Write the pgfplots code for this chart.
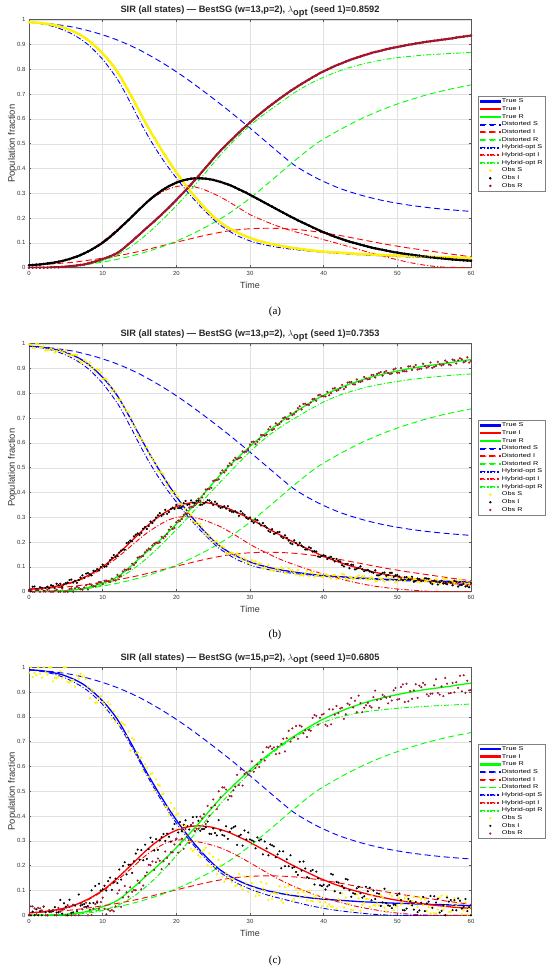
\documentclass[border=0pt]{standalone}
\usepackage{fontspec}
\setmainfont{Liberation Sans}
\newfontfamily\capfont{Liberation Serif}
\newfontfamily\legfont[FakeStretch=1.3]{Liberation Sans}
\usepackage{pgfplots}
\pgfplotsset{compat=1.18}
\usepackage{pgfplotstable}
\definecolor{obsR}{rgb}{0.635,0.078,0.184}

\pgfplotstableread{
t S I R
0.0 0.990 0.010 0.000
0.5 0.989 0.011 0.000
1.0 0.988 0.012 0.000
1.5 0.987 0.013 0.000
2.0 0.985 0.015 0.000
2.5 0.983 0.017 0.000
3.0 0.980 0.019 0.001
3.5 0.977 0.021 0.002
4.0 0.974 0.024 0.002
4.5 0.970 0.027 0.003
5.0 0.965 0.031 0.004
5.5 0.959 0.035 0.006
6.0 0.953 0.040 0.007
6.5 0.946 0.045 0.009
7.0 0.938 0.051 0.011
7.5 0.929 0.058 0.013
8.0 0.918 0.065 0.017
8.5 0.906 0.073 0.021
9.0 0.893 0.082 0.025
9.5 0.879 0.091 0.030
10.0 0.864 0.101 0.035
10.5 0.848 0.112 0.040
11.0 0.830 0.124 0.046
11.5 0.811 0.137 0.052
12.0 0.790 0.150 0.060
12.5 0.766 0.164 0.070
13.0 0.740 0.178 0.082
13.5 0.713 0.192 0.095
14.0 0.686 0.207 0.107
14.5 0.658 0.221 0.121
15.0 0.630 0.236 0.134
15.5 0.602 0.250 0.148
16.0 0.575 0.264 0.161
16.5 0.549 0.277 0.174
17.0 0.524 0.289 0.187
17.5 0.499 0.300 0.201
18.0 0.475 0.311 0.214
18.5 0.451 0.320 0.229
19.0 0.428 0.329 0.243
19.5 0.406 0.336 0.258
20.0 0.384 0.343 0.273
20.5 0.363 0.348 0.289
21.0 0.343 0.353 0.304
21.5 0.324 0.356 0.320
22.0 0.305 0.359 0.336
22.5 0.287 0.360 0.353
23.0 0.270 0.361 0.369
23.5 0.253 0.360 0.387
24.0 0.237 0.359 0.404
24.5 0.222 0.357 0.421
25.0 0.207 0.354 0.439
25.5 0.194 0.350 0.456
26.0 0.182 0.346 0.472
26.5 0.172 0.341 0.487
27.0 0.162 0.336 0.502
27.5 0.154 0.330 0.516
28.0 0.146 0.323 0.531
28.5 0.139 0.316 0.545
29.0 0.132 0.309 0.559
29.5 0.126 0.302 0.572
30.0 0.120 0.294 0.586
30.5 0.115 0.286 0.599
31.0 0.110 0.278 0.612
31.5 0.106 0.270 0.624
32.0 0.102 0.262 0.636
32.5 0.098 0.254 0.648
33.0 0.095 0.246 0.659
33.5 0.092 0.238 0.670
34.0 0.089 0.230 0.681
34.5 0.086 0.222 0.692
35.0 0.084 0.214 0.702
35.5 0.081 0.206 0.713
36.0 0.079 0.199 0.722
36.5 0.077 0.191 0.732
37.0 0.075 0.184 0.741
37.5 0.073 0.177 0.750
38.0 0.071 0.170 0.759
38.5 0.069 0.163 0.768
39.0 0.068 0.156 0.776
39.5 0.066 0.149 0.785
40.0 0.065 0.143 0.792
40.5 0.064 0.137 0.799
41.0 0.063 0.131 0.806
41.5 0.062 0.125 0.813
42.0 0.061 0.120 0.819
42.5 0.060 0.115 0.825
43.0 0.059 0.110 0.831
43.5 0.058 0.105 0.837
44.0 0.057 0.101 0.842
44.5 0.056 0.097 0.847
45.0 0.055 0.093 0.852
45.5 0.054 0.089 0.857
46.0 0.054 0.085 0.861
46.5 0.053 0.081 0.866
47.0 0.052 0.078 0.870
47.5 0.052 0.075 0.873
48.0 0.051 0.072 0.877
48.5 0.050 0.069 0.881
49.0 0.050 0.066 0.884
49.5 0.049 0.063 0.887
50.0 0.049 0.061 0.890
50.5 0.048 0.058 0.893
51.0 0.048 0.056 0.896
51.5 0.047 0.054 0.899
52.0 0.047 0.052 0.901
52.5 0.046 0.050 0.904
53.0 0.046 0.048 0.906
53.5 0.045 0.046 0.909
54.0 0.045 0.044 0.911
54.5 0.044 0.042 0.913
55.0 0.044 0.041 0.915
55.5 0.043 0.039 0.917
56.0 0.043 0.038 0.919
56.5 0.042 0.036 0.921
57.0 0.042 0.035 0.923
57.5 0.041 0.033 0.925
58.0 0.041 0.032 0.928
58.5 0.040 0.031 0.930
59.0 0.040 0.030 0.932
59.5 0.039 0.029 0.934
60.0 0.039 0.028 0.936
}\trueT

\pgfplotstableread{
t S I R
0.0 0.997 0.006 0.003
0.5 0.984 0.020 0.000
1.0 1.000 0.011 0.006
1.5 0.985 0.018 0.000
2.0 0.989 0.004 0.001
2.5 0.974 0.020 0.008
3.0 0.981 0.026 0.000
3.5 0.964 0.015 0.004
4.0 0.980 0.026 0.000
4.5 0.967 0.019 0.013
5.0 0.975 0.035 0.001
5.5 0.952 0.047 0.011
6.0 0.955 0.037 0.000
6.5 0.954 0.036 0.020
7.0 0.927 0.057 0.010
7.5 0.934 0.056 0.017
8.0 0.914 0.075 0.009
8.5 0.909 0.066 0.027
9.0 0.885 0.083 0.021
9.5 0.893 0.086 0.039
10.0 0.858 0.109 0.031
10.5 0.857 0.102 0.045
11.0 0.828 0.127 0.039
11.5 0.815 0.148 0.046
12.0 0.780 0.144 0.068
12.5 0.773 0.166 0.063
13.0 0.737 0.169 0.089
13.5 0.724 0.199 0.090
14.0 0.680 0.204 0.113
14.5 0.660 0.230 0.117
15.0 0.621 0.229 0.141
15.5 0.607 0.254 0.144
16.0 0.583 0.253 0.167
16.5 0.545 0.283 0.170
17.0 0.527 0.287 0.194
17.5 0.487 0.308 0.196
18.0 0.481 0.306 0.221
18.5 0.450 0.330 0.223
19.0 0.437 0.321 0.250
19.5 0.400 0.339 0.253
20.0 0.388 0.350 0.280
20.5 0.355 0.338 0.284
21.0 0.354 0.357 0.310
21.5 0.321 0.350 0.315
22.0 0.310 0.368 0.343
22.5 0.277 0.357 0.348
23.0 0.272 0.367 0.375
23.5 0.261 0.351 0.380
24.0 0.232 0.361 0.412
24.5 0.225 0.368 0.414
25.0 0.200 0.350 0.447
25.5 0.204 0.355 0.450
26.0 0.180 0.338 0.479
26.5 0.178 0.344 0.481
27.0 0.153 0.345 0.508
27.5 0.158 0.323 0.511
28.0 0.143 0.324 0.540
28.5 0.147 0.306 0.538
29.0 0.126 0.316 0.566
29.5 0.128 0.298 0.565
30.0 0.109 0.299 0.593
30.5 0.120 0.278 0.605
31.0 0.109 0.288 0.604
31.5 0.113 0.267 0.632
32.0 0.098 0.266 0.629
32.5 0.107 0.245 0.655
33.0 0.088 0.252 0.652
33.5 0.095 0.236 0.679
34.0 0.084 0.241 0.676
34.5 0.092 0.216 0.700
35.0 0.074 0.217 0.696
35.5 0.085 0.196 0.720
36.0 0.077 0.207 0.716
36.5 0.087 0.187 0.740
37.0 0.069 0.186 0.735
37.5 0.075 0.170 0.758
38.0 0.063 0.179 0.753
38.5 0.074 0.162 0.776
39.0 0.065 0.162 0.770
39.5 0.074 0.140 0.794
40.0 0.061 0.147 0.788
40.5 0.067 0.132 0.806
41.0 0.054 0.141 0.800
41.5 0.068 0.122 0.821
42.0 0.060 0.125 0.813
42.5 0.071 0.107 0.834
43.0 0.054 0.112 0.825
43.5 0.060 0.095 0.845
44.0 0.050 0.108 0.836
44.5 0.060 0.093 0.856
45.0 0.052 0.102 0.846
45.5 0.063 0.083 0.866
46.0 0.048 0.088 0.856
46.5 0.058 0.079 0.874
47.0 0.042 0.086 0.864
47.5 0.055 0.066 0.882
48.0 0.049 0.076 0.871
48.5 0.058 0.064 0.890
49.0 0.046 0.076 0.878
49.5 0.055 0.060 0.896
50.0 0.041 0.067 0.883
50.5 0.050 0.050 0.902
51.0 0.043 0.058 0.889
51.5 0.057 0.050 0.908
52.0 0.044 0.060 0.894
52.5 0.050 0.043 0.914
53.0 0.039 0.051 0.899
53.5 0.052 0.044 0.919
54.0 0.044 0.053 0.903
54.5 0.049 0.036 0.924
55.0 0.035 0.045 0.907
55.5 0.046 0.029 0.927
56.0 0.039 0.044 0.912
56.5 0.050 0.033 0.932
57.0 0.036 0.040 0.916
57.5 0.043 0.026 0.936
58.0 0.038 0.040 0.920
58.5 0.049 0.027 0.941
59.0 0.035 0.033 0.925
59.5 0.043 0.023 0.945
60.0 0.037 0.035 0.930
}\obsB

\pgfplotstableread{
t S I R
0.25 0.996 0.002 0.009
0.75 0.983 0.021 0.000
1.25 0.997 0.007 0.009
1.75 0.985 0.015 0.011
2.25 0.973 0.015 0.001
2.75 0.976 0.014 0.002
3.25 0.975 0.024 0.000
3.75 0.970 0.032 0.008
4.25 0.971 0.032 0.000
4.75 0.964 0.030 0.000
5.25 0.966 0.037 0.000
5.75 0.955 0.049 0.013
6.25 0.956 0.044 0.014
6.75 0.936 0.047 0.016
7.25 0.923 0.066 0.008
7.75 0.928 0.073 0.026
8.25 0.923 0.070 0.030
8.75 0.901 0.084 0.022
9.25 0.897 0.091 0.032
9.75 0.883 0.100 0.039
10.25 0.860 0.101 0.044
10.75 0.845 0.112 0.042
11.25 0.810 0.137 0.053
11.75 0.805 0.140 0.045
12.25 0.774 0.158 0.061
12.75 0.754 0.170 0.082
13.25 0.728 0.196 0.088
13.75 0.701 0.206 0.092
14.25 0.668 0.223 0.108
14.75 0.635 0.235 0.137
15.25 0.617 0.237 0.142
15.75 0.580 0.261 0.159
16.25 0.561 0.265 0.174
16.75 0.536 0.277 0.187
17.25 0.511 0.299 0.198
17.75 0.483 0.317 0.199
18.25 0.474 0.312 0.216
18.75 0.429 0.314 0.232
19.25 0.406 0.334 0.262
19.75 0.406 0.334 0.257
20.25 0.383 0.337 0.287
20.75 0.352 0.342 0.293
21.25 0.335 0.366 0.316
21.75 0.319 0.352 0.339
22.25 0.285 0.359 0.341
22.75 0.280 0.367 0.355
23.25 0.273 0.350 0.367
23.75 0.241 0.356 0.395
24.25 0.224 0.369 0.414
24.75 0.209 0.360 0.419
25.25 0.202 0.363 0.449
25.75 0.192 0.344 0.453
26.25 0.183 0.340 0.489
26.75 0.158 0.335 0.489
27.25 0.154 0.327 0.518
27.75 0.154 0.321 0.530
28.25 0.154 0.319 0.534
28.75 0.135 0.324 0.541
29.25 0.135 0.310 0.562
29.75 0.117 0.294 0.575
30.25 0.127 0.284 0.604
30.75 0.122 0.291 0.595
31.25 0.114 0.275 0.614
31.75 0.095 0.277 0.631
32.25 0.094 0.259 0.633
32.75 0.086 0.241 0.665
33.25 0.083 0.233 0.656
33.75 0.092 0.240 0.672
34.25 0.097 0.222 0.686
34.75 0.076 0.227 0.703
35.25 0.094 0.206 0.697
35.75 0.086 0.192 0.712
36.25 0.069 0.196 0.726
36.75 0.065 0.197 0.748
37.25 0.065 0.180 0.757
37.75 0.083 0.170 0.754
38.25 0.079 0.176 0.763
38.75 0.060 0.164 0.778
39.25 0.068 0.142 0.792
39.75 0.060 0.145 0.788
40.25 0.071 0.144 0.787
40.75 0.063 0.138 0.792
41.25 0.067 0.132 0.819
41.75 0.051 0.132 0.810
42.25 0.055 0.122 0.821
42.75 0.069 0.102 0.817
43.25 0.050 0.112 0.843
43.75 0.057 0.109 0.846
44.25 0.056 0.090 0.836
44.75 0.065 0.096 0.846
45.25 0.061 0.090 0.849
45.75 0.050 0.086 0.860
46.25 0.053 0.082 0.858
46.75 0.052 0.076 0.874
47.25 0.043 0.066 0.878
47.75 0.053 0.070 0.886
48.25 0.040 0.077 0.885
48.75 0.056 0.067 0.882
49.25 0.061 0.076 0.880
49.75 0.038 0.066 0.900
50.25 0.050 0.061 0.883
50.75 0.054 0.046 0.889
51.25 0.054 0.059 0.889
51.75 0.056 0.049 0.909
52.25 0.051 0.040 0.907
52.75 0.040 0.053 0.896
53.25 0.042 0.043 0.899
53.75 0.041 0.054 0.909
54.25 0.046 0.052 0.908
54.75 0.033 0.031 0.903
55.25 0.050 0.041 0.910
55.75 0.032 0.038 0.917
56.25 0.054 0.033 0.916
56.75 0.051 0.030 0.926
57.25 0.043 0.038 0.913
57.75 0.035 0.044 0.933
58.25 0.045 0.021 0.933
58.75 0.046 0.027 0.937
59.25 0.031 0.021 0.929
59.75 0.033 0.018 0.924
}\obsBb

\pgfplotstableread{
t S I R
0.0 0.978 0.000 0.000
0.5 0.961 0.015 0.036
1.0 0.968 0.024 0.004
1.5 0.975 0.017 0.028
2.0 1.000 0.035 0.036
2.5 0.971 0.000 0.000
3.0 1.000 0.015 0.013
3.5 0.957 0.033 0.000
4.0 0.962 0.012 0.030
4.5 0.958 0.007 0.023
5.0 1.000 0.035 0.000
5.5 0.939 0.063 0.034
6.0 0.949 0.012 0.043
6.5 0.966 0.017 0.021
7.0 0.974 0.039 0.047
7.5 0.965 0.046 0.033
8.0 0.922 0.037 0.000
8.5 0.910 0.101 0.001
9.0 0.857 0.118 0.045
9.5 0.875 0.127 0.026
10.0 0.860 0.105 0.071
10.5 0.828 0.100 0.004
11.0 0.850 0.152 0.018
11.5 0.823 0.133 0.016
12.0 0.802 0.130 0.088
12.5 0.778 0.144 0.034
13.0 0.768 0.214 0.118
13.5 0.741 0.204 0.075
14.0 0.714 0.171 0.095
14.5 0.654 0.249 0.101
15.0 0.634 0.224 0.130
15.5 0.582 0.222 0.120
16.0 0.595 0.228 0.173
16.5 0.569 0.313 0.202
17.0 0.504 0.261 0.183
17.5 0.527 0.264 0.229
18.0 0.487 0.315 0.186
18.5 0.439 0.300 0.257
19.0 0.408 0.317 0.207
19.5 0.418 0.348 0.254
20.0 0.404 0.307 0.309
20.5 0.351 0.376 0.285
21.0 0.339 0.365 0.268
21.5 0.360 0.360 0.324
22.0 0.269 0.363 0.364
22.5 0.267 0.340 0.341
23.0 0.242 0.381 0.349
23.5 0.257 0.348 0.391
24.0 0.273 0.355 0.368
24.5 0.250 0.329 0.401
25.0 0.235 0.350 0.467
25.5 0.166 0.322 0.428
26.0 0.202 0.342 0.476
26.5 0.136 0.321 0.515
27.0 0.158 0.308 0.466
27.5 0.134 0.350 0.480
28.0 0.118 0.359 0.519
28.5 0.167 0.320 0.525
29.0 0.104 0.281 0.523
29.5 0.130 0.306 0.576
30.0 0.156 0.306 0.582
30.5 0.111 0.298 0.579
31.0 0.090 0.314 0.608
31.5 0.134 0.306 0.628
32.0 0.098 0.298 0.624
32.5 0.062 0.242 0.676
33.0 0.067 0.282 0.671
33.5 0.088 0.234 0.650
34.0 0.117 0.258 0.653
34.5 0.050 0.258 0.712
35.0 0.088 0.226 0.714
35.5 0.085 0.242 0.701
36.0 0.067 0.195 0.718
36.5 0.089 0.163 0.712
37.0 0.103 0.180 0.761
37.5 0.077 0.189 0.746
38.0 0.099 0.150 0.747
38.5 0.057 0.183 0.796
39.0 0.080 0.176 0.804
39.5 0.054 0.121 0.797
40.0 0.069 0.123 0.812
40.5 0.036 0.117 0.763
41.0 0.035 0.167 0.770
41.5 0.098 0.097 0.809
42.0 0.065 0.132 0.815
42.5 0.088 0.119 0.837
43.0 0.071 0.146 0.811
43.5 0.046 0.101 0.849
44.0 0.021 0.089 0.838
44.5 0.084 0.109 0.819
45.0 0.019 0.089 0.856
45.5 0.050 0.077 0.837
46.0 0.066 0.097 0.857
46.5 0.081 0.061 0.838
47.0 0.040 0.066 0.906
47.5 0.040 0.087 0.837
48.0 0.071 0.052 0.889
48.5 0.014 0.049 0.877
49.0 0.086 0.038 0.880
49.5 0.021 0.043 0.907
50.0 0.037 0.081 0.870
50.5 0.044 0.062 0.921
51.0 0.068 0.020 0.860
51.5 0.059 0.066 0.863
52.0 0.059 0.040 0.873
52.5 0.050 0.054 0.932
53.0 0.074 0.020 0.926
53.5 0.041 0.074 0.937
54.0 0.017 0.048 0.891
54.5 0.008 0.078 0.893
55.0 0.008 0.077 0.927
55.5 0.023 0.067 0.897
56.0 0.079 0.018 0.923
56.5 0.038 0.000 0.957
57.0 0.014 0.055 0.895
57.5 0.045 0.021 0.937
58.0 0.037 0.020 0.940
58.5 0.060 0.059 0.966
59.0 0.020 0.034 0.968
59.5 0.003 0.017 0.946
60.0 0.003 0.000 0.908
}\obsC

\pgfplotstableread{
t S I R
0.25 1.000 0.000 0.036
0.75 0.977 0.000 0.028
1.25 1.000 0.000 0.030
1.75 0.958 0.000 0.020
2.25 0.980 0.012 0.000
2.75 1.000 0.014 0.021
3.25 0.943 0.016 0.022
3.75 0.956 0.011 0.000
4.25 0.984 0.062 0.015
4.75 1.000 0.049 0.024
5.25 0.942 0.000 0.041
5.75 0.944 0.010 0.000
6.25 0.922 0.039 0.000
6.75 0.954 0.084 0.000
7.25 0.962 0.043 0.024
7.75 0.952 0.034 0.051
8.25 0.876 0.049 0.023
8.75 0.904 0.050 0.027
9.25 0.858 0.051 0.056
9.75 0.884 0.100 0.053
10.25 0.852 0.119 0.026
10.75 0.859 0.138 0.023
11.25 0.793 0.103 0.021
11.75 0.781 0.148 0.036
12.25 0.766 0.185 0.101
12.75 0.773 0.199 0.072
13.25 0.723 0.165 0.093
13.75 0.664 0.204 0.113
14.25 0.708 0.218 0.102
14.75 0.656 0.265 0.140
15.25 0.636 0.263 0.105
15.75 0.609 0.285 0.159
16.25 0.558 0.267 0.204
16.75 0.573 0.295 0.217
17.25 0.548 0.307 0.214
17.75 0.523 0.302 0.220
18.25 0.491 0.328 0.218
18.75 0.436 0.329 0.232
19.25 0.453 0.297 0.255
19.75 0.431 0.368 0.286
20.25 0.410 0.334 0.253
20.75 0.365 0.339 0.309
21.25 0.362 0.383 0.348
21.75 0.295 0.346 0.292
22.25 0.260 0.396 0.373
22.75 0.299 0.397 0.349
23.25 0.234 0.341 0.398
23.75 0.265 0.348 0.408
24.25 0.202 0.378 0.441
24.75 0.195 0.328 0.434
25.25 0.197 0.332 0.444
25.75 0.224 0.384 0.500
26.25 0.157 0.324 0.516
26.75 0.171 0.359 0.507
27.25 0.146 0.337 0.481
27.75 0.146 0.355 0.504
28.25 0.123 0.284 0.566
28.75 0.116 0.325 0.588
29.25 0.157 0.342 0.570
29.75 0.095 0.334 0.567
30.25 0.130 0.302 0.621
30.75 0.077 0.270 0.594
31.25 0.080 0.302 0.598
31.75 0.108 0.246 0.658
32.25 0.128 0.270 0.678
32.75 0.085 0.286 0.682
33.25 0.090 0.278 0.677
33.75 0.087 0.246 0.680
34.25 0.060 0.190 0.691
34.75 0.113 0.198 0.661
35.25 0.119 0.198 0.744
35.75 0.060 0.191 0.754
36.25 0.106 0.175 0.763
36.75 0.072 0.216 0.765
37.25 0.094 0.217 0.734
37.75 0.060 0.154 0.719
38.25 0.058 0.179 0.744
38.75 0.073 0.124 0.808
39.25 0.063 0.149 0.769
39.75 0.038 0.118 0.809
40.25 0.053 0.104 0.768
40.75 0.044 0.122 0.831
41.25 0.035 0.164 0.830
41.75 0.026 0.135 0.844
42.25 0.057 0.090 0.834
42.75 0.032 0.109 0.792
43.25 0.047 0.144 0.854
43.75 0.022 0.075 0.876
44.25 0.085 0.087 0.865
44.75 0.068 0.115 0.886
45.25 0.043 0.071 0.819
45.75 0.066 0.115 0.847
46.25 0.034 0.111 0.844
46.75 0.041 0.100 0.880
47.25 0.048 0.089 0.868
47.75 0.080 0.038 0.871
48.25 0.031 0.107 0.883
48.75 0.038 0.040 0.855
49.25 0.078 0.029 0.866
49.75 0.037 0.042 0.917
50.25 0.069 0.088 0.872
50.75 0.052 0.021 0.931
51.25 0.076 0.027 0.934
51.75 0.043 0.057 0.904
52.25 0.075 0.023 0.907
52.75 0.034 0.013 0.877
53.25 0.066 0.051 0.920
53.75 0.065 0.017 0.930
54.25 0.033 0.055 0.884
54.75 0.032 0.030 0.894
55.25 0.008 0.052 0.952
55.75 0.071 0.011 0.890
56.25 0.023 0.041 0.884
56.75 0.078 0.072 0.934
57.25 0.014 0.062 0.896
57.75 0.069 0.061 0.899
58.25 0.045 0.068 0.917
58.75 0.004 0.027 0.903
59.25 0.052 0.066 0.897
59.75 0.027 0.033 0.907
}\obsCb

\pgfplotstableread{
t S I R
0 0.990 0.010 0.000
3 0.983 0.015 0.002
6 0.970 0.022 0.008
9 0.948 0.034 0.018
12 0.918 0.048 0.034
15 0.878 0.066 0.056
18 0.828 0.088 0.084
21 0.770 0.110 0.120
24 0.705 0.131 0.164
27 0.636 0.148 0.216
30 0.563 0.157 0.280
33 0.487 0.159 0.354
36 0.414 0.155 0.430
39 0.362 0.145 0.500
42 0.322 0.131 0.553
45 0.293 0.114 0.599
48 0.271 0.097 0.638
51 0.255 0.082 0.670
54 0.243 0.069 0.697
57 0.234 0.056 0.719
60 0.227 0.044 0.737
}\distT

\pgfplotsset{
  limgT/.style={legend image code/.code={\fill[#1] (0bp,-0.65bp) rectangle (20bp,0.65bp);}},
  limgD/.style={legend image code/.code={\fill[#1] (0bp,-0.45bp) rectangle (6bp,0.45bp) (9.5bp,-0.45bp) rectangle (15.5bp,0.45bp) (19bp,-0.45bp) rectangle (20bp,0.45bp);}},
  limgH/.style={legend image code/.code={\fill[#1] (0bp,-0.45bp) rectangle (5bp,0.45bp) (7bp,-0.45bp) rectangle (8bp,0.45bp) (10bp,-0.45bp) rectangle (15bp,0.45bp) (17bp,-0.45bp) rectangle (18bp,0.45bp);}},
}

\tikzset{
  tS/.style={draw=blue, color=blue, line width=1.3bp},
  tI/.style={draw=red, color=red, line width=1.3bp},
  tR/.style={draw=green, color=green, line width=1.3bp},
  dS/.style={draw=blue, color=blue, line width=0.9bp, dash pattern=on 6bp off 3.5bp, smooth},
  dI/.style={draw=red, color=red, line width=0.9bp, dash pattern=on 6bp off 3.5bp, smooth},
  dR/.style={draw=green, color=green, line width=0.9bp, dash pattern=on 6bp off 3.5bp, smooth},
  hS/.style={draw=blue, color=blue, line width=0.9bp, dash pattern=on 5bp off 2bp on 1bp off 2bp, smooth},
  hI/.style={draw=red, color=red, line width=0.9bp, dash pattern=on 5bp off 2bp on 1bp off 2bp, smooth},
  hR/.style={draw=green, color=green, line width=0.9bp, dash pattern=on 5bp off 2bp on 1bp off 2bp, smooth},
  oS/.style={draw=yellow, fill=yellow, color=yellow, only marks, mark=*, mark size=0.9bp},
  oI/.style={draw=black, fill=black, color=black, only marks, mark=*, mark size=0.9bp},
  oR/.style={draw=obsR, fill=obsR, color=obsR, only marks, mark=*, mark size=0.9bp},
}

\pgfplotsset{
  sirax/.style={
    scale only axis, width=442bp, height=248bp,
    xmin=0, xmax=60, ymin=0, ymax=1,
    xtick={0,10,20,30,40,50,60},
    xticklabels={0,10,20,30,40,50,60},
    ytick={0,0.1,0.2,0.3,0.4,0.5,0.6,0.7,0.8,0.9,1},
    yticklabels={0,0.1,0.2,0.3,0.4,0.5,0.6,0.7,0.8,0.9,1},
    grid=major, major grid style={black!12, line width=0.4bp},
    axis line style={black!65, line width=0.5bp},
    tick style={black!65, line width=0.5bp},
    tick align=inside, major tick length=2.5bp,
    ticklabel style={font=\fontsize{6}{7}\selectfont, text=black!80},
    xlabel={Time}, ylabel={Population fraction},
    ylabel shift=-6.5bp,
    xlabel style={font=\fontsize{9}{10}\selectfont, text=black!80},
    ylabel style={font=\fontsize{9.5}{10}\selectfont, text=black!80},
    title style={font=\bfseries\fontsize{9.3}{10}\selectfont, text=black!85,
      at={(0.5,1)}, anchor=base, yshift=1.3bp},
    /pgf/number format/assume math mode=true,
    legend style={at={(1.016,0.5)}, anchor=west,
      font=\legfont\fontsize{5.6}{6}\selectfont,
      draw=black!50, line width=0.4bp,
      inner xsep=1.4bp, inner ysep=1.2bp, row sep=0bp,
      cells={anchor=west},
      nodes={inner sep=1bp}},
    legend image code/.code={\draw[mark repeat=2,mark phase=2,##1] plot coordinates {(0bp,0bp) (10bp,0bp) (20bp,0bp)};},
  },
}

\newcommand\lgd{\legend{\strut True S,\strut True I,\strut True R,\strut Distorted S,\strut Distorted I,\strut Distorted R,\strut Hybrid-opt S,\strut Hybrid-opt I,\strut Hybrid-opt R,\strut Obs S,\strut Obs I,\strut Obs R}}

\begin{document}
\begin{tikzpicture}
\path[use as bounding box] (0bp,0bp) rectangle (550bp,-972bp);

% ---------------- (a)
\begin{axis}[sirax, at={(29bp,-267.7bp)}, anchor=south west,
  title={SIR (all states) — BestSG (w=13,p=2), $\lambda_{\textbf{opt}}$ (seed 1)=0.8592}]
\addplot[tS, limgT=blue] table[x=t,y=S]{\trueT};
\addplot[tI, limgT=red] table[x=t,y=I]{\trueT};
\addplot[tR, limgT=green] table[x=t,y=R]{\trueT};
\addplot[dS, limgD=blue] table[x=t,y=S]{\distT};
\addplot[dI, limgD=red] table[x=t,y=I]{\distT};
\addplot[dR, limgD=green] table[x=t,y=R]{\distT};
\addplot[hS, limgH=blue] coordinates {(0,0.990) (2,0.982) (4,0.966) (6,0.940) (8,0.900) (10,0.840) (12,0.760) (13,0.708) (14,0.652) (15,0.594) (16,0.539) (17,0.489) (18,0.443) (19,0.401) (20,0.362) (21,0.324) (22,0.289) (23,0.256) (24,0.225) (25,0.196) (26,0.171) (28,0.133) (30,0.108) (32,0.092) (35,0.077) (40,0.062) (45,0.052) (50,0.045) (55,0.040) (60,0.036)};
\addplot[hI, limgH=red] coordinates {(0,0.010) (3,0.018) (5,0.030) (8,0.066) (10,0.106) (12,0.155) (14,0.208) (16,0.262) (17,0.285) (18,0.304) (19,0.318) (20,0.327) (21,0.331) (22,0.329) (23,0.322) (24,0.312) (26,0.285) (28,0.250) (30,0.214) (32,0.188) (34,0.165) (36,0.146) (38,0.130) (40,0.113) (42,0.097) (44,0.080) (46,0.063) (48,0.047) (50,0.032) (52,0.019) (54,0.009) (56,0.003) (58,0.001) (60,0.000)};
\addplot[hR, limgH=green] coordinates {(0,0.000) (4,0.003) (6,0.006) (8,0.013) (10,0.028) (12,0.052) (14,0.088) (16,0.135) (18,0.190) (20,0.250) (22,0.315) (24,0.385) (26,0.455) (28,0.518) (30,0.573) (32,0.621) (34,0.663) (36,0.705) (38,0.740) (40,0.768) (42,0.792) (44,0.811) (46,0.826) (48,0.838) (50,0.847) (52,0.853) (54,0.858) (56,0.862) (58,0.865) (60,0.868)};
\addplot[forget plot, draw=yellow, line width=2.3bp] table[x=t,y=S]{\trueT};
\addplot[forget plot, draw=black, line width=2.1bp] table[x=t,y=I]{\trueT};
\addplot[forget plot, draw=obsR, line width=2.1bp] table[x=t,y=R]{\trueT};
\addplot[oS, mark size=1.2bp] table[x=t,y=S]{\trueT};
\addplot[oI, mark size=1.1bp] table[x=t,y=I]{\trueT};
\addplot[oR, mark size=1.1bp] table[x=t,y=R]{\trueT};
\lgd
\end{axis}
\node[font=\capfont\fontsize{11}{12}\selectfont] at (275bp,-312bp) {(a)};

% ---------------- (b)
\begin{axis}[sirax, at={(29bp,-591.7bp)}, anchor=south west,
  title={SIR (all states) — BestSG (w=13,p=2), $\lambda_{\textbf{opt}}$ (seed 1)=0.7353}]
\addplot[tS, limgT=blue] table[x=t,y=S]{\trueT};
\addplot[tI, limgT=red] table[x=t,y=I]{\trueT};
\addplot[tR, limgT=green] table[x=t,y=R]{\trueT};
\addplot[dS, limgD=blue] table[x=t,y=S]{\distT};
\addplot[dI, limgD=red] table[x=t,y=I]{\distT};
\addplot[dR, limgD=green] table[x=t,y=R]{\distT};
\addplot[hS, limgH=blue] coordinates {(0,0.990) (2,0.982) (4,0.966) (6,0.940) (8,0.900) (10,0.840) (12,0.760) (13,0.708) (14,0.652) (15,0.594) (16,0.539) (17,0.489) (18,0.443) (19,0.401) (20,0.362) (21,0.324) (22,0.289) (23,0.256) (24,0.225) (25,0.196) (26,0.171) (28,0.133) (30,0.108) (32,0.092) (35,0.077) (40,0.062) (45,0.052) (50,0.045) (55,0.040) (60,0.036)};
\addplot[hI, limgH=red] coordinates {(0,0.010) (3,0.017) (5,0.028) (8,0.060) (10,0.095) (12,0.138) (14,0.188) (16,0.237) (18,0.275) (19,0.290) (20,0.299) (21,0.303) (22,0.301) (23,0.295) (24,0.286) (26,0.262) (28,0.228) (30,0.191) (32,0.160) (34,0.132) (36,0.109) (38,0.089) (40,0.071) (42,0.054) (44,0.039) (46,0.027) (48,0.018) (50,0.011) (52,0.006) (54,0.002) (56,0.000) (58,0.000) (60,0.000)};
\addplot[hR, limgH=green] coordinates {(0,0.000) (4,0.003) (6,0.006) (8,0.013) (10,0.028) (12,0.052) (14,0.088) (16,0.135) (18,0.190) (20,0.250) (22,0.313) (24,0.380) (26,0.443) (28,0.505) (30,0.565) (32,0.617) (34,0.661) (36,0.698) (38,0.733) (40,0.765) (42,0.791) (44,0.810) (46,0.826) (48,0.838) (50,0.848) (52,0.856) (54,0.863) (56,0.869) (58,0.874) (60,0.878)};
\addplot[oS, mark size=1.0bp] table[x=t,y=S]{\obsB};
\addplot[oI, mark size=0.9bp] table[x=t,y=I]{\obsB};
\addplot[oR, mark size=0.9bp] table[x=t,y=R]{\obsB};
\addplot[oS, mark size=1.0bp, forget plot] table[x=t,y=S]{\obsBb};
\addplot[oI, mark size=0.9bp, forget plot] table[x=t,y=I]{\obsBb};
\addplot[oR, mark size=0.9bp, forget plot] table[x=t,y=R]{\obsBb};
\lgd
\end{axis}
\node[font=\capfont\fontsize{11}{12}\selectfont] at (275bp,-635bp) {(b)};

% ---------------- (c)
\begin{axis}[sirax, at={(29bp,-915.3bp)}, anchor=south west,
  title={SIR (all states) — BestSG (w=15,p=2), $\lambda_{\textbf{opt}}$ (seed 1)=0.6805}]
\addplot[tS, limgT=blue] table[x=t,y=S]{\trueT};
\addplot[tI, limgT=red] table[x=t,y=I]{\trueT};
\addplot[tR, limgT=green] table[x=t,y=R]{\trueT};
\addplot[dS, limgD=blue] table[x=t,y=S]{\distT};
\addplot[dI, limgD=red] table[x=t,y=I]{\distT};
\addplot[dR, limgD=green] table[x=t,y=R]{\distT};
\addplot[hS, limgH=blue] coordinates {(0,0.990) (2,0.982) (4,0.967) (6,0.942) (8,0.905) (10,0.850) (12,0.775) (13,0.728) (14,0.676) (15,0.621) (16,0.565) (17,0.512) (18,0.462) (19,0.415) (20,0.372) (21,0.332) (22,0.295) (23,0.260) (24,0.228) (25,0.198) (26,0.172) (28,0.133) (30,0.106) (32,0.085) (34,0.069) (36,0.054) (38,0.040) (40,0.028) (42,0.019) (44,0.012) (46,0.006) (48,0.002) (50,0.000) (55,0.000) (60,0.000)};
\addplot[hI, limgH=red] coordinates {(0,0.010) (3,0.017) (5,0.028) (8,0.062) (10,0.098) (12,0.142) (14,0.192) (16,0.245) (18,0.283) (19,0.296) (20,0.303) (21,0.304) (22,0.301) (23,0.296) (24,0.290) (26,0.272) (28,0.245) (30,0.212) (32,0.177) (34,0.144) (36,0.116) (38,0.092) (40,0.071) (42,0.054) (44,0.039) (46,0.027) (48,0.017) (50,0.009) (52,0.004) (54,0.001) (56,0.000) (60,0.000)};
\addplot[hR, limgH=green] coordinates {(0,0.000) (4,0.002) (6,0.004) (8,0.009) (10,0.020) (12,0.040) (14,0.072) (16,0.118) (18,0.175) (20,0.240) (22,0.310) (24,0.382) (26,0.450) (28,0.515) (30,0.575) (32,0.630) (34,0.676) (36,0.717) (38,0.752) (40,0.779) (42,0.798) (44,0.812) (46,0.822) (48,0.829) (50,0.835) (52,0.839) (54,0.843) (56,0.846) (58,0.849) (60,0.852)};
\addplot[oS, mark size=0.95bp] table[x=t,y=S]{\obsC};
\addplot[oI, mark size=0.85bp] table[x=t,y=I]{\obsC};
\addplot[oR, mark size=0.85bp] table[x=t,y=R]{\obsC};
\addplot[oS, mark size=0.95bp, forget plot] table[x=t,y=S]{\obsCb};
\addplot[oI, mark size=0.85bp, forget plot] table[x=t,y=I]{\obsCb};
\addplot[oR, mark size=0.85bp, forget plot] table[x=t,y=R]{\obsCb};
\lgd
\end{axis}
\node[font=\capfont\fontsize{11}{12}\selectfont] at (275bp,-960.7bp) {(c)};
\end{tikzpicture}
\end{document}
